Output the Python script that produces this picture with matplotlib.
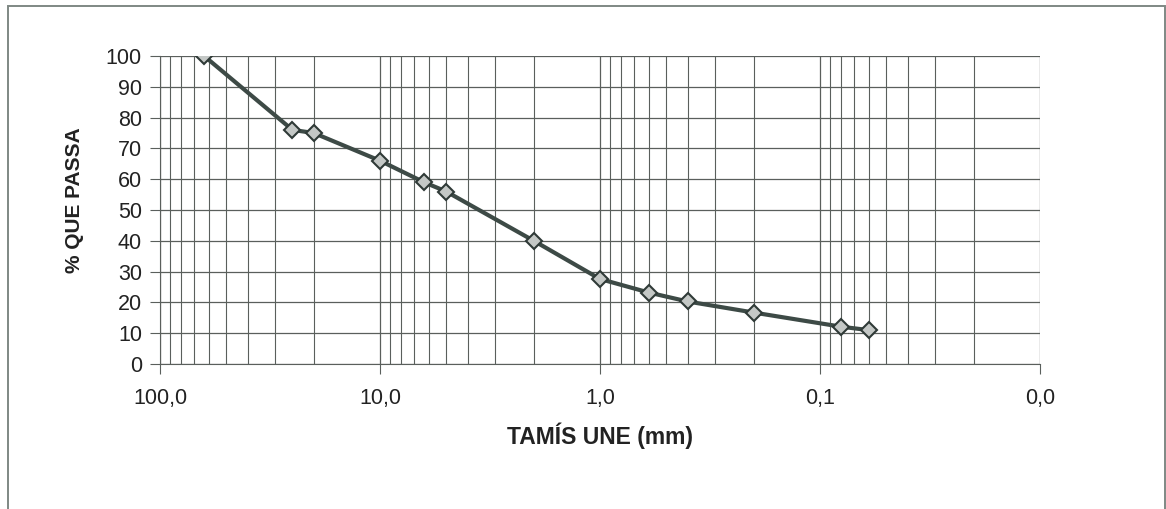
import matplotlib.pyplot as plt
from matplotlib.ticker import FixedLocator, LogLocator, NullFormatter
from matplotlib.patches import Rectangle

plt.rcParams['font.family'] = ['Liberation Sans', 'DejaVu Sans']

# sieve openings (mm) and % passing
tamis = [63, 25, 20, 10, 6.3, 5, 2, 1, 0.6, 0.4, 0.2, 0.08, 0.06]
passa = [100, 76, 75, 66, 59, 56, 40, 27.6, 23.2, 20.3, 16.7, 12.1, 11.0]

x_ticks = [100, 10, 1, 0.1, 0.01]
x_labels = ["100,0", "10,0", "1,0", "0,1", "0,0"]
y_ticks = list(range(0, 101, 10))

fig = plt.figure(figsize=(11.66, 5.09), dpi=100)
ax = fig.add_axes([160/1166, 1 - 364/509, 880/1166, 308/509])

grid_col = "#5a5f5c"
ax.set_xscale("log")
ax.set_xlim(100, 0.01)
ax.set_ylim(0, 100)

ax.xaxis.set_major_locator(FixedLocator(x_ticks))
ax.set_xticklabels(x_labels)
ax.xaxis.set_minor_locator(LogLocator(base=10, subs=range(2, 10), numticks=20))
ax.xaxis.set_minor_formatter(NullFormatter())
ax.set_yticks(y_ticks)

ax.grid(True, which="major", color=grid_col, linewidth=0.9)
ax.grid(True, which="minor", axis="x", color=grid_col, linewidth=0.8)
ax.set_axisbelow(True)

ax.plot(tamis, passa, color="#3d4a46", linewidth=3, marker="D", markersize=8,
        markerfacecolor="#c4c8c6", markeredgecolor="#2f3a37", markeredgewidth=1.5,
        zorder=5)

for s in ["top", "right"]:
    ax.spines[s].set_visible(False)
ax.spines["left"].set_color(grid_col)
ax.spines["bottom"].set_color(grid_col)
ax.tick_params(axis="both", which="major", direction="out", length=7,
               color=grid_col, labelsize=15.5, labelcolor="#222222")
ax.tick_params(axis="x", which="minor", length=0)
ax.tick_params(axis="x", which="major", pad=10)
ax.tick_params(axis="y", which="major", pad=6)

ax.set_xlabel("TAMÍS UNE (mm)", fontsize=16.5, fontweight="bold", color="#222222")
ax.set_ylabel("% QUE PASSA", fontsize=15, fontweight="bold", color="#222222")
ax.xaxis.set_label_coords(600/1166, 1 - 436/509, transform=fig.transFigure)
ax.yaxis.set_label_coords(75/1166, 1 - 200/509, transform=fig.transFigure)
ax.xaxis.label.set_va("center")
ax.yaxis.label.set_va("center")

# outer frame of the chart area
fig.patches.append(Rectangle((7.5/1166, -0.1), 1157/1166, 1.1 - 6.5/509,
                             transform=fig.transFigure, fill=False,
                             edgecolor="#7f8884", linewidth=1.4))

fig.savefig("out.png", dpi=100)
